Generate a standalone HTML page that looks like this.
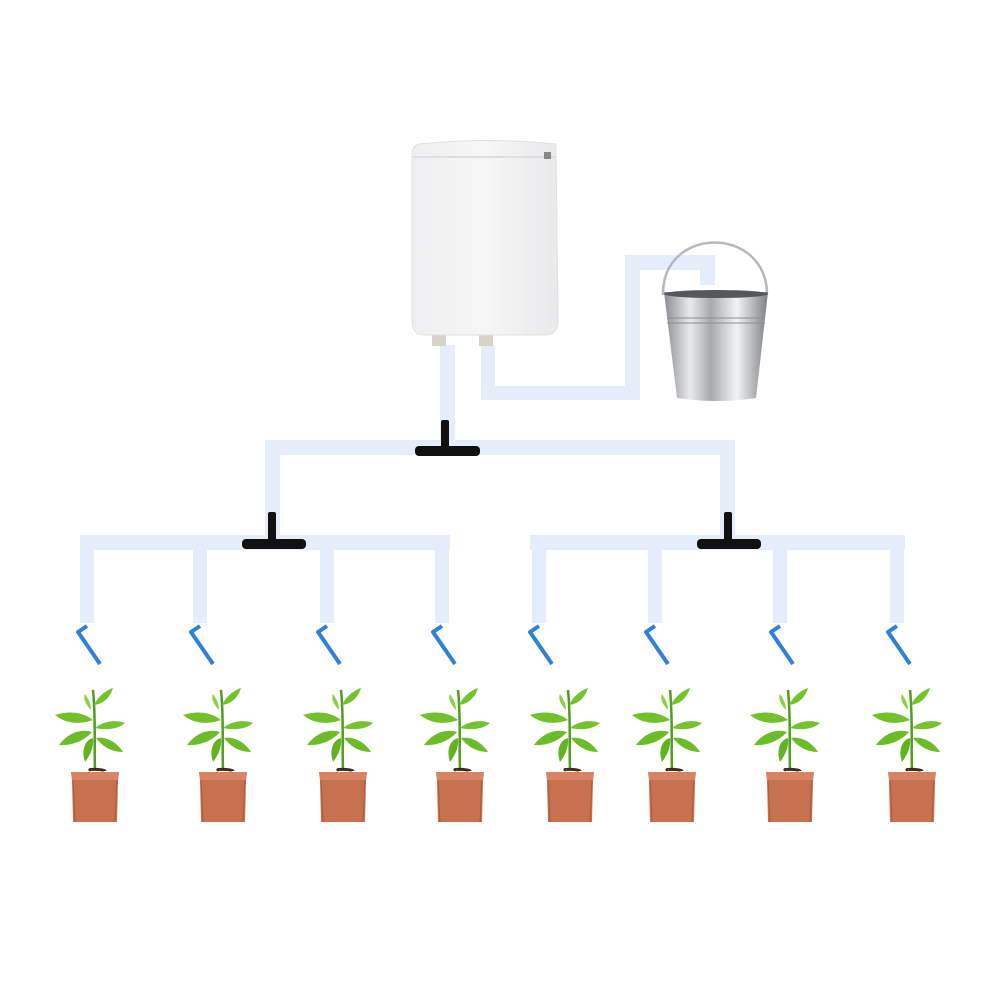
<!DOCTYPE html>
<html><head><meta charset="utf-8"><style>html,body{margin:0;padding:0;background:#fff}svg{display:block}</style></head>
<body>
<svg width="1000" height="1000" viewBox="0 0 1000 1000" xmlns="http://www.w3.org/2000/svg">
<defs>
<linearGradient id="metal" x1="0" x2="1" y1="0" y2="0">
<stop offset="0" stop-color="#8a8d90"/><stop offset="0.25" stop-color="#e8eaec"/><stop offset="0.45" stop-color="#a7aaad"/><stop offset="0.7" stop-color="#f2f3f4"/><stop offset="1" stop-color="#7d8083"/>
</linearGradient>
<linearGradient id="box" x1="0" x2="1"><stop offset="0" stop-color="#efeff1"/><stop offset="0.5" stop-color="#f6f6f7"/><stop offset="1" stop-color="#e9e9eb"/></linearGradient>
<g id="plant">
<path d="M0,0 C-1,-25 1,-50 -2,-80" stroke="#4f9e1e" stroke-width="2.5" fill="none"/>
<path d="M-2,-50 C-15,-60 -30,-58 -40,-55 C-28,-45 -12,-46 -2,-50Z" fill="#72c12c"/>
<path d="M-3,-38 C-15,-42 -28,-36 -36,-25 C-22,-24 -10,-30 -3,-38Z" fill="#6cbb28"/>
<path d="M-2,-32 C-10,-30 -14,-20 -10,-8 C-4,-16 -1,-24 -2,-32Z" fill="#62b222"/>
<path d="M0,-42 C10,-50 22,-50 30,-47 C22,-40 10,-40 0,-42Z" fill="#74c22e"/>
<path d="M1,-32 C10,-34 22,-28 28,-18 C16,-18 7,-24 1,-32Z" fill="#6cbb28"/>
<path d="M-1,-65 C4,-75 12,-80 18,-82 C15,-72 8,-66 -1,-65Z" fill="#74c22e"/>
<path d="M-4,-60 C-10,-66 -12,-72 -10,-76 C-6,-70 -4,-66 -4,-60Z" fill="#8ccf48"/>
<path d="M-4,0 C-10,-1 10,-1 10,1" stroke="#3a2a1e" stroke-width="3" fill="none"/>
<path d="M-24,2 L24,2 L23,10 L22,52 L-22,52 L-23,10Z" fill="#c8714e"/>
<path d="M-24,2 L24,2 L23,10 L-23,10Z" fill="#d88462"/>
<path d="M-22,10 L-20,52" stroke="#a95a3a" stroke-width="1" fill="none"/>
<path d="M22,10 L20,52" stroke="#a95a3a" stroke-width="1" fill="none"/>
</g>
<g id="drip">
<path d="M9,0 L0,6 L22,38" stroke="#2f80d6" stroke-width="4" fill="none" stroke-linejoin="round"/>
</g>
</defs>

<!-- pipes -->
<g fill="#e4edf9">
<rect x="440" y="345" width="15" height="105"/>
<rect x="481" y="345" width="14" height="55"/>
<rect x="481" y="386" width="159" height="14"/>
<rect x="625" y="255" width="15" height="145"/>
<rect x="625" y="255" width="90" height="15"/>
<rect x="700" y="255" width="15" height="30"/>
<rect x="265" y="440" width="470" height="15"/>
<rect x="265" y="440" width="15" height="105"/>
<rect x="720" y="440" width="15" height="105"/>
<rect x="80" y="535" width="370" height="15"/>
<rect x="530" y="535" width="375" height="15"/>
<rect x="80" y="535" width="14" height="88"/>
<rect x="193" y="535" width="14" height="88"/>
<rect x="320" y="535" width="14" height="88"/>
<rect x="435" y="535" width="14" height="88"/>
<rect x="532" y="535" width="14" height="88"/>
<rect x="648" y="535" width="14" height="88"/>
<rect x="773" y="535" width="14" height="88"/>
<rect x="890" y="535" width="14" height="88"/>
</g>

<!-- T connectors -->
<g fill="#111">
<rect x="441" y="420" width="8" height="32" rx="2"/>
<rect x="415" y="446" width="65" height="10" rx="4"/>
<rect x="268" y="512" width="8" height="32" rx="2"/>
<rect x="242" y="539" width="64" height="10" rx="4"/>
<rect x="724" y="512" width="8" height="32" rx="2"/>
<rect x="697" y="539" width="64" height="10" rx="4"/>
</g>

<!-- device -->
<rect x="432" y="334" width="14" height="12" fill="#d7d3c6"/>
<rect x="479" y="334" width="14" height="12" fill="#d7d3c6"/>
<path d="M420,144 Q485,137 556,144 L558,320 Q558,335 545,335 L424,335 Q412,335 412,320 L412,155 Q412,145 420,144Z" fill="url(#box)" stroke="#e0e0e2" stroke-width="1"/>
<line x1="413" y1="157" x2="556" y2="157" stroke="#d8d8da" stroke-width="1.5"/>
<rect x="544" y="152" width="7" height="7" fill="#888"/>

<!-- bucket -->
<path d="M663,295 C662,225 767,225 767,295" stroke="#b5b7ba" stroke-width="2.5" fill="none"/>
<path d="M664,292 L768,292 L756,398 Q716,404 677,398Z" fill="url(#metal)"/>
<ellipse cx="716" cy="294" rx="52" ry="4" fill="#55585b"/>
<line x1="667" y1="318" x2="765" y2="318" stroke="#8c8f92" stroke-width="1"/>
<line x1="667" y1="323" x2="765" y2="323" stroke="#8c8f92" stroke-width="1"/>

<!-- drips -->
<use href="#drip" x="78" y="626"/>
<use href="#drip" x="191" y="626"/>
<use href="#drip" x="318" y="626"/>
<use href="#drip" x="433" y="626"/>
<use href="#drip" x="530" y="626"/>
<use href="#drip" x="646" y="626"/>
<use href="#drip" x="771" y="626"/>
<use href="#drip" x="888" y="626"/>

<!-- plants -->
<use href="#plant" x="95" y="770"/>
<use href="#plant" x="223" y="770"/>
<use href="#plant" x="343" y="770"/>
<use href="#plant" x="460" y="770"/>
<use href="#plant" x="570" y="770"/>
<use href="#plant" x="672" y="770"/>
<use href="#plant" x="790" y="770"/>
<use href="#plant" x="912" y="770"/>
</svg>
</body></html>
